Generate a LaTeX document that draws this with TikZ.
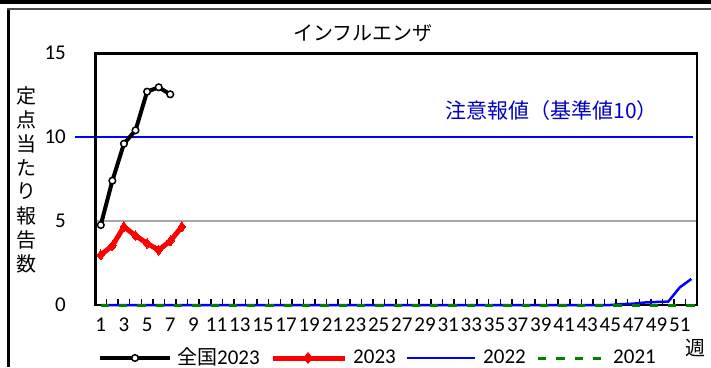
\documentclass[tikz,border=0pt]{standalone}
\usepackage{fontspec}
\setmainfont{Carlito}
\newfontfamily\jp{Noto Sans CJK JP}
\usetikzlibrary{plotmarks}
\definecolor{notecol}{RGB}{0,0,200}
\definecolor{darkgreen}{RGB}{0,128,0}
\begin{document}
\begin{tikzpicture}[x=1pt,y=-1pt,
  every node/.style={inner sep=0pt,font=\fontsize{21}{24}\selectfont},
  jptext/.style={font=\jp\fontsize{20}{24}\selectfont},
  natline/.style={black,line width=4pt},
  natmark/.style={draw=black,fill=white,line width=1.5pt},
  prefline/.style={red,line width=5pt},
  line22/.style={blue,line width=2.5pt},
  line21/.style={darkgreen,line width=3pt,dash pattern=on 8.3pt off 10pt}]
\useasboundingbox (0,0) rectangle (711,367);
\fill[white] (0,0) rectangle (711,367);
%
\fill[black] (0,0) rectangle (711,4);
\fill[black] (7,8) rectangle (9.5,367);
\fill[gray!60!black] (7,7.5) rectangle (711,9.5);
%
\node[jptext] (title) at (363,33) {インフルエンザ};
\foreach \c [count=\i] in {定,点,当,た,り,報,告,数}
  \node[jptext] (ylab\i) at (26.5,95.5+24*\i-24) {\c};
\node[jptext] (unit) at (695,348) {週};
%
\begin{scope}[xshift=95pt,yshift=-305pt,x=11.58pt,y=16.8pt]
\draw[gray!70,line width=1.5pt] (0,5) -- (52,5);
\draw[blue,line width=2pt] (-1.73,10) -- (51.65,10);
\node[font=\jp\fontsize{21}{24}\selectfont,text=notecol] (note) at (39.44,11.55) {注意報値（基準値10）};
\foreach \v in {0,5,10,15}
  \node[anchor=east] (y\v) at (-2.5,\v) {\v};
\foreach \k in {1,3,...,51}
  \node (w\k) at (\k-0.5,-1.19) {\k};
\foreach \k in {1,...,51}
  \draw[black,line width=1.5pt] (\k,0) -- ++(0,6pt);
\draw[black,line width=2.5pt] (0,0) -- (52,0);
%
\draw[line22] (0.5,0) -- (44.5,0) -- (45.5,0.05) -- (46.5,0.08) -- (47.5,0.15)
  -- (48.5,0.18) -- (49.5,0.2) -- (50.5,1.05) -- (51.5,1.55);
\draw[line21] (0.5,0) -- (52,0);
\draw[prefline] plot[mark=diamond*,mark size=5pt,mark options={red,line width=0pt}]
  coordinates {(0.5,2.98) (1.5,3.53) (2.5,4.66) (3.5,4.13) (4.5,3.67) (5.5,3.27) (6.5,3.81) (7.5,4.66)};
\draw[natline] (0.5,4.76) -- (1.5,7.4) -- (2.5,9.6) -- (3.5,10.4) -- (4.5,12.7) -- (5.5,12.96) -- (6.5,12.54);
\foreach \k/\v in {1/4.76, 2/7.4, 3/9.6, 4/10.4, 5/12.7, 6/12.96, 7/12.54}
  \draw[natmark] (\k-0.5,\v) circle (3.3pt);
\end{scope}
%
\draw[natline] (100,358) -- (170,358);
\draw[natmark] (135,358) circle (3.3pt);
\node[anchor=west] (lg1) at (177,357) {{\jp\fontsize{20}{24}\selectfont 全国}2023};
\draw[prefline] (273,358) -- (345,358);
\fill[red] (308,352) -- (313,358) -- (308,364) -- (303,358) -- cycle;
\node[anchor=west] (lg2) at (353,357) {2023};
\draw[line22] (407,358) -- (475,358);
\node[anchor=west] (lg3) at (483,357) {2022};
\draw[line21] (538,358) -- (606,358);
\node[anchor=west] (lg4) at (613,357) {2021};
%
\fill[black] (94,52) rectangle (96.5,306);
\fill[black] (94,52) rectangle (698,54.5);
\fill[black] (695.5,52) rectangle (698,306);
\end{tikzpicture}
\end{document}
